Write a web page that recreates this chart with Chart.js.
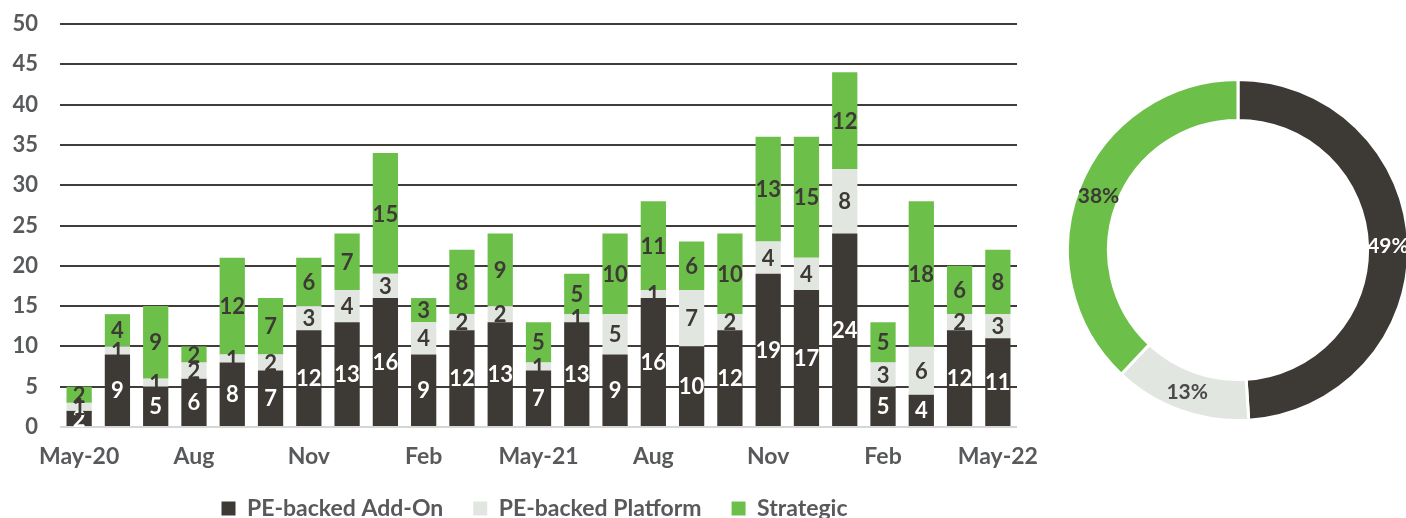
<!DOCTYPE html>
<html>
<head>
<meta charset="utf-8">
<script src="https://cdn.jsdelivr.net/npm/chart.js@4.4.0/dist/chart.umd.min.js"></script>
<style>
  html, body { margin: 0; padding: 0; background: #fff; width: 1406px; height: 518px; overflow: hidden; }
  #bars { position: absolute; left: 0; top: 0; }
  #ring { position: absolute; left: 1066px; top: 78px; }
</style>
</head>
<body>
<canvas id="bars" width="1040" height="538"></canvas>
<canvas id="ring" width="344" height="344"></canvas>
<script>
const months = ["May-20", "Jun", "Jul", "Aug", "Sep", "Oct", "Nov", "Dec", "Jan", "Feb", "Mar", "Apr",
  "May-21", "Jun", "Jul", "Aug", "Sep", "Oct", "Nov", "Dec", "Jan", "Feb", "Mar", "Apr", "May-22"];
const addOn =     [2, 9, 5, 6, 8, 7, 12, 13, 16, 9, 12, 13, 7, 13, 9, 16, 10, 12, 19, 17, 24, 5, 4, 12, 11];
const platform =  [1, 1, 1, 2, 1, 2, 3, 4, 3, 4, 2, 2, 1, 1, 5, 1, 7, 2, 4, 4, 8, 3, 6, 2, 3];
const strategic = [2, 4, 9, 2, 12, 7, 6, 7, 15, 3, 8, 9, 5, 5, 10, 11, 6, 10, 13, 15, 12, 5, 18, 6, 8];
const yTicks = [0, 5, 10, 15, 20, 25, 30, 35, 40, 45, 50];

const shareNames = ["PE-backed Add-On", "PE-backed Platform", "Strategic"];
const shares = [49, 13, 38];

const DARK = "#3d3935";
const LIGHT = "#e2e6e1";
const GREEN = "#6cc04a";
const TEXT = "#58595b";
const FONT = "Lato, 'Open Sans', sans-serif";

// draws the numbers inside the bars / ring segments
const valueLabels = {
  id: "valueLabels",
  afterDatasetsDraw(chart, args, opts) {
    const ctx = chart.ctx;
    ctx.save();
    ctx.font = "bold " + opts.size + "px " + FONT;
    ctx.textAlign = "center";
    ctx.textBaseline = "middle";
    chart.data.datasets.forEach((ds, i) => {
      const meta = chart.getDatasetMeta(i);
      meta.data.forEach((el, j) => {
        const v = ds.data[j];
        if (!v) return;
        let x, y;
        if (chart.config.type === "bar") {
          x = el.x;
          y = (el.y + el.base) / 2;
          ctx.fillStyle = opts.colors[i];
        } else {
          const p = el.tooltipPosition();
          x = p.x; y = p.y;
          ctx.fillStyle = opts.colors[j];
        }
        ctx.fillText(opts.suffix ? v + opts.suffix : v, x, y + 1);
      });
    });
    ctx.restore();
  }
};

// legend is centred under the plot area and sits tight under the month labels
const shiftLegend = {
  id: "shiftLegend",
  afterLayout(chart) {
    const lg = chart.legend;
    lg.left += 26;
    lg.right += 26;
    lg.top -= 8;
    lg.bottom -= 8;
  }
};

new Chart(document.getElementById("bars"), {
  type: "bar",
  data: {
    labels: months,
    datasets: [
      { label: "PE-backed Add-On", data: addOn, backgroundColor: DARK },
      { label: "PE-backed Platform", data: platform, backgroundColor: LIGHT },
      { label: "Strategic", data: strategic, backgroundColor: GREEN }
    ]
  },
  options: {
    responsive: false,
    animation: false,
    barPercentage: 0.66,
    categoryPercentage: 1,
    layout: { padding: { top: 24, right: 23, left: 0, bottom: 0 } },
    plugins: {
      tooltip: { enabled: false },
      legend: {
        position: "bottom",
        labels: {
          boxWidth: 14,
          boxHeight: 14,
          padding: 30,
          color: TEXT,
          font: { family: FONT, size: 23, weight: "bold" }
        }
      },
      valueLabels: { size: 22, colors: ["#ffffff", DARK, DARK] }
    },
    scales: {
      x: {
        stacked: true,
        grid: { display: false, drawTicks: false },
        border: { display: false },
        afterFit: s => { s.height = 48; s.paddingLeft = 0; s.paddingRight = 0; },
        ticks: {
          autoSkip: false,
          maxRotation: 0,
          padding: 16,
          color: TEXT,
          font: { family: FONT, size: 23, weight: "bold" },
          callback: (v, i) => (i % 3 === 0 ? months[i] : "")
        }
      },
      y: {
        stacked: true,
        min: 0,
        max: 50,
        afterFit: s => { s.width = 60; s.paddingTop = 0; s.paddingBottom = 0; },
        afterBuildTicks: s => { s.ticks = yTicks.map(v => ({ value: v })); },
        border: { display: false },
        grid: {
          drawTicks: false,
          lineWidth: 2,
          color: c => (c.tick && c.tick.value === 0 ? "#d6d6d6" : "#403c39")
        },
        ticks: {
          padding: 22,
          color: TEXT,
          font: { family: FONT, size: 22, weight: "bold" }
        }
      }
    }
  },
  plugins: [valueLabels, shiftLegend]
});

new Chart(document.getElementById("ring"), {
  type: "doughnut",
  data: {
    labels: shareNames,
    datasets: [{
      data: shares,
      backgroundColor: [DARK, LIGHT, GREEN],
      borderColor: "#ffffff",
      borderWidth: 3
    }]
  },
  options: {
    responsive: false,
    animation: false,
    cutout: "76%",
    plugins: {
      legend: { display: false },
      tooltip: { enabled: false },
      valueLabels: { size: 21, suffix: "%", colors: ["#ffffff", "#4a4a4a", DARK] }
    }
  },
  plugins: [valueLabels]
});
</script>
</body>
</html>
